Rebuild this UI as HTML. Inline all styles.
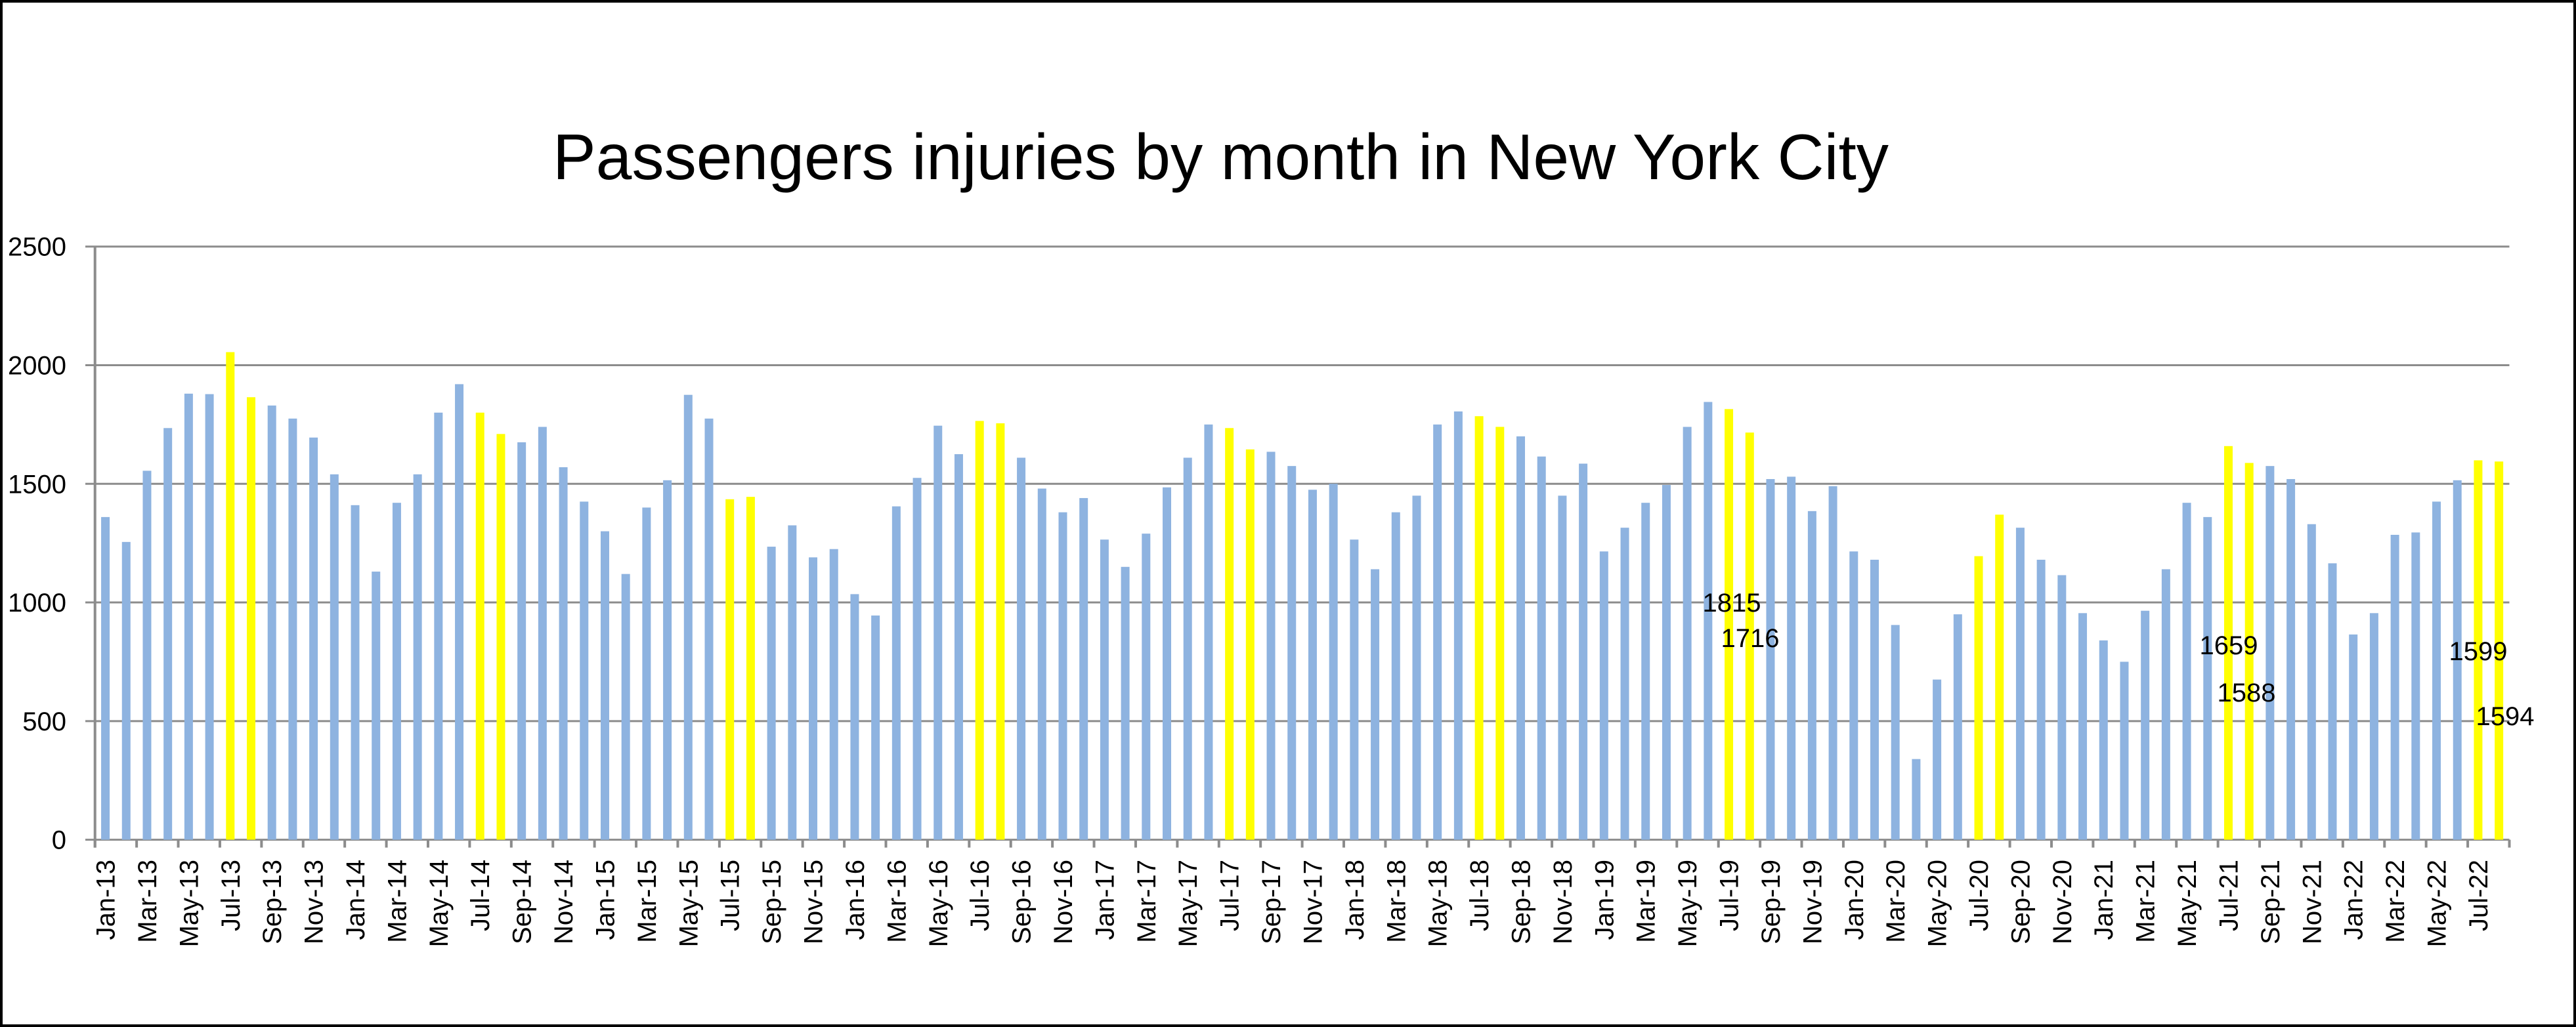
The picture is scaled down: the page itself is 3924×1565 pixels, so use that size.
<!DOCTYPE html>
<html><head><meta charset="utf-8"><style>
html,body{margin:0;padding:0;background:#fff;}
svg{display:block;}
</style></head><body>
<svg id="chart" width="3924" height="1565" xmlns="http://www.w3.org/2000/svg">
<rect x="2" y="2" width="3920" height="1561" fill="#fff" stroke="#000" stroke-width="4"/>
<text x="842" y="273" font-family="Liberation Sans Narrow, Liberation Sans, sans-serif" font-size="98" textLength="2035" lengthAdjust="spacingAndGlyphs">Passengers injuries by month in New York City</text>
<g id="grid"></g><g id="bars"></g><g id="axes"></g><g id="labels"></g>
</svg>
<script>
const months = ["Jan","Feb","Mar","Apr","May","Jun","Jul","Aug","Sep","Oct","Nov","Dec"];
const values = [
1360,1255,1555,1735,1880,1878,2055,1865,1830,1775,1695,1540,
1410,1130,1420,1540,1800,1920,1800,1710,1675,1740,1570,1425,
1300,1120,1400,1515,1875,1775,1435,1445,1235,1325,1190,1225,
1035,945,1405,1525,1745,1625,1765,1755,1610,1480,1380,1440,
1265,1150,1290,1485,1610,1750,1735,1645,1635,1575,1475,1500,
1265,1140,1380,1450,1750,1805,1785,1740,1700,1615,1450,1585,
1215,1315,1420,1495,1740,1845,1815,1716,1520,1530,1385,1490,
1215,1180,905,340,675,950,1195,1370,1315,1180,1115,955,
840,750,965,1140,1420,1360,1659,1588,1575,1520,1330,1165,
865,955,1285,1295,1425,1515,1599,1594];
const highlight = [6,7,18,19,30,31,42,43,54,55,66,67,78,79,90,91,102,103,114,115];
const yTicks = [0,500,1000,1500,2000,2500];
const annotIdx = [78,79,102,103,114,115];
const annotText = ["1815","1716","1659","1588","1599","1594"];
const annotDx = [-1,1,-1,1,-1,1];

const NS="http://www.w3.org/2000/svg";
const X0=144.7, X1=3822.5, Y0=1279.6, Y1=375.7, YMAX=2500;
const n=values.length, cw=(X1-X0)/n;
const ys=v=>Y0-(v/YMAX)*(Y0-Y1);
const xc=i=>X0+cw*(i+0.5);
function mk(tag,attrs,parent){const e=document.createElementNS(NS,tag);for(const k in attrs)e.setAttribute(k,attrs[k]);parent.appendChild(e);return e;}
const g=document.getElementById('grid'),b=document.getElementById('bars'),a=document.getElementById('axes'),l=document.getElementById('labels');
yTicks.forEach(t=>{
  const ln=mk('line',{x1:130,x2:X1,y1:ys(t),y2:ys(t),stroke:'#8c8c8c','stroke-width':3},g);
  
  
  const tx=mk('text',{x:101,y:ys(t)+14,'text-anchor':'end','font-family':'Liberation Sans, sans-serif','font-size':40},g);
  tx.textContent=t;
  
  
});
values.forEach((v,i)=>{
  const hi=highlight.includes(i);
  const r=mk('rect',{x:xc(i)-6.5,y:ys(v),width:13,height:Y0-ys(v),fill:hi?'#ffff00':'#8eb3e0'},b);
  
  
});
const ax=mk('line',{x1:X0,x2:X0,y1:Y1,y2:Y0+12,stroke:'#8c8c8c','stroke-width':4},a);


for(let i=0;i<=n;i+=2){
  const t=mk('line',{x1:X0+cw*i,x2:X0+cw*i,y1:Y0,y2:Y0+12,stroke:'#8c8c8c','stroke-width':4},a);
  
  
}
for(let i=0;i<n;i+=2){
  const lab=months[i%12]+'-'+(13+Math.floor(i/12));
  const x=xc(i)+14, y=1310;
  const tx=mk('text',{x:x,y:y,transform:`rotate(-90 ${x} ${y})`,'text-anchor':'end','font-family':'Liberation Sans Narrow, Liberation Sans, sans-serif','font-size':40},a);
  tx.textContent=lab;
  
  
}
annotIdx.forEach((idx,k)=>{
  const v=values[idx];
  const tx=mk('text',{x:xc(idx)+annotDx[k]*14,y:ys(v)+(k%2===0?1003-ys(1815):986-ys(1716))-0,'text-anchor':'middle','font-family':'Liberation Sans, sans-serif','font-size':40},l);
  tx.textContent=annotText[k];
  
  
});
// adjust annotation positions to reference placement
const annotY=[932,986,997,1069,1006,1105];
const annotX=[2638,2666,3395,3422,3775,3816];
Array.from(l.children).forEach((t,k)=>{t.setAttribute('x',annotX[k]);t.setAttribute('y',annotY[k]);});
</script>
</body></html>
